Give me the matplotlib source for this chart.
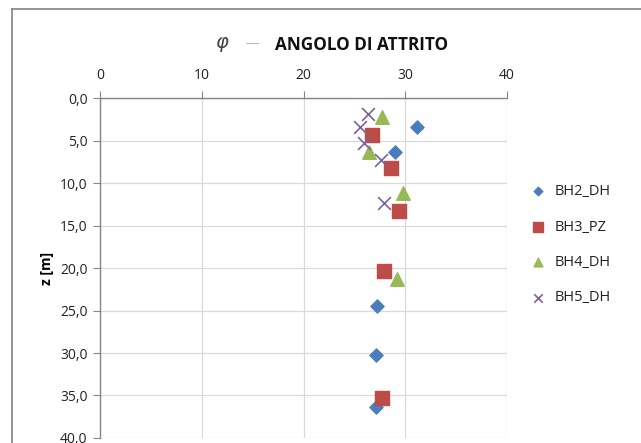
import matplotlib.pyplot as plt
from matplotlib.lines import Line2D
from matplotlib.ticker import FuncFormatter, MultipleLocator

# angolo di attrito (gradi) vs profondita z (m) per ogni sondaggio
bh2_phi = [31.2, 29.0, 27.2, 27.1, 27.1]
bh2_z = [3.3, 6.3, 24.4, 30.2, 36.3]
bh3_phi = [26.7, 28.6, 29.4, 27.9, 27.7]
bh3_z = [4.3, 8.2, 13.2, 20.3, 35.3]
bh4_phi = [27.7, 26.4, 29.8, 29.2]
bh4_z = [2.2, 6.3, 11.1, 21.3]
bh5_phi = [26.3, 25.6, 25.9, 27.6, 27.9]
bh5_z = [1.8, 3.3, 5.3, 7.3, 12.3]

plt.rcParams['font.family'] = ['Open Sans', 'DejaVu Sans']

fig = plt.figure(figsize=(6.41, 4.43), dpi=100)
W, H = 641, 443

# bordo esterno del grafico
fig.lines.append(Line2D([12 / W, 12 / W], [0, 1 - 9.3 / H], transform=fig.transFigure,
                        color='#8c8c8c', lw=1.3))
fig.lines.append(Line2D([12 / W, 1], [1 - 9.3 / H, 1 - 9.3 / H], transform=fig.transFigure,
                        color='#8c8c8c', lw=1.3))

ax = fig.add_axes([100 / W, 1 - 437.9 / H, 407 / W, 339.4 / H])
ax.set_xlim(0, 40)
ax.set_ylim(40, 0)
ax.xaxis.set_major_locator(MultipleLocator(10))
ax.yaxis.set_major_locator(MultipleLocator(5))
ax.yaxis.set_major_formatter(FuncFormatter(lambda v, p: f'{v:.1f}'.replace('.', ',')))
ax.xaxis.tick_top()
ax.tick_params(axis='both', direction='out', length=5, color='#868686',
               labelsize=10, labelcolor='#222222', pad=4)
ax.tick_params(axis='x', pad=6)
ax.grid(True, color='#d9d9d9', lw=0.9)
ax.set_axisbelow(True)
for s in ['right', 'bottom']:
    ax.spines[s].set_visible(False)
for s in ['left', 'top']:
    ax.spines[s].set_color('#868686')
    ax.spines[s].set_linewidth(1.0)

ax.scatter(bh2_phi, bh2_z, marker='D', s=45, color='#4a7ebb', label='BH2_DH', zorder=3)
ax.scatter(bh3_phi, bh3_z, marker='s', s=110, color='#be4b48', label='BH3_PZ', zorder=3)
ax.scatter(bh4_phi, bh4_z, marker='^', s=95, color='#98b954', label='BH4_DH', zorder=3)
ax.scatter(bh5_phi, bh5_z, marker='x', s=85, color='#7d60a0', linewidths=1.2,
           label='BH5_DH', zorder=3)

ax.set_ylabel('z [m]', fontsize=10, fontweight='bold', labelpad=4)

leg = ax.legend(loc='upper left', bbox_to_anchor=(1.025, 0.765), frameon=False,
                fontsize=10.5, handletextpad=0.15, labelspacing=1.4, markerscale=0.65,
                borderaxespad=0)
for t in leg.get_texts():
    t.set_color('#222222')

# titolo: simbolo, trattino e testo
fig.text(222 / W, 1 - 45 / H, r'$\varphi$', fontsize=14, color='#444444',
         ha='center', va='center', family='DejaVu Serif', style='italic')
fig.lines.append(Line2D([246 / W, 258 / W], [1 - 43 / H, 1 - 43 / H],
                        transform=fig.transFigure, color='#bbbbbb', lw=0.8))
fig.text(275 / W, 1 - 44.5 / H, 'ANGOLO DI ATTRITO', fontsize=12.3, fontweight='bold',
         color='#111111', ha='left', va='center')

fig.savefig('out.png', dpi=100)
